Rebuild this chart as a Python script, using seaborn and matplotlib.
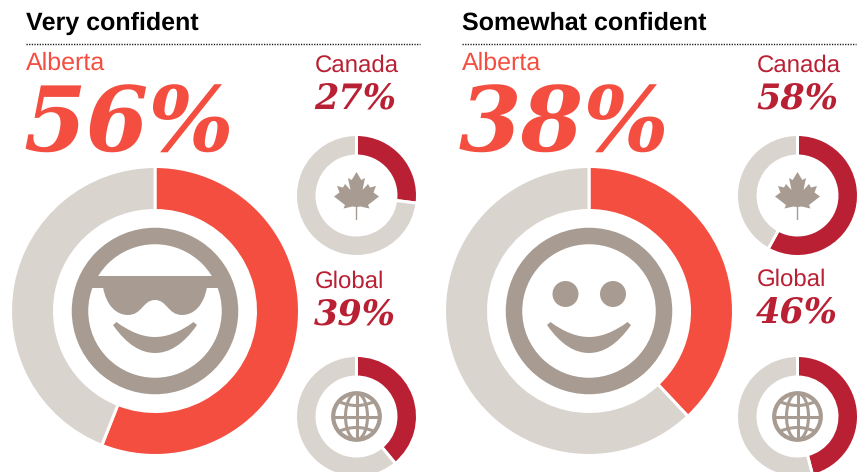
import matplotlib
matplotlib.use("Agg")
import matplotlib.pyplot as plt
import seaborn as sns
from matplotlib.patches import Circle, Ellipse, PathPatch, Polygon, Rectangle
from matplotlib.path import Path

# Survey shares (percent) shown on each panel
panel_titles = ["Very confident", "Somewhat confident"]
alberta_values = [56, 38]
canada_values = [27, 58]
global_values = [39, 46]
region_labels = ["Alberta", "Canada", "Global"]

sns.set_theme(style="white")
plt.rcParams["text.hinting"] = "no_hinting"
plt.rcParams["text.hinting_factor"] = 1
palette = sns.color_palette(["#F44E41", "#B92034", "#DAD4CF", "#A89C92"])
ALBERTA, DARK, TRACK, ICON = palette

W, H = 864, 472
SANS = "Liberation Sans"
SERIF = "DejaVu Serif"

fig = plt.figure(figsize=(W / 100, H / 100), dpi=100)
ax = fig.add_axes([0, 0, 1, 1])


def fy(y):
    """Convert a y measured from the top edge to the axes scale."""
    return H - y


def donut(value, cx, cy, outer, inner, color):
    gap = 1.5
    ax.pie([value, 100 - value], colors=[color, TRACK], startangle=90,
           counterclock=False, center=(cx, fy(cy)), radius=outer + gap,
           frame=True,
           wedgeprops=dict(width=outer - inner + 2 * gap, edgecolor="white",
                           linewidth=2.16))


def shape(points, codes=None):
    pts = [(x, fy(y)) for x, y in points]
    ax.add_patch(PathPatch(Path(pts, codes), fc=ICON, ec="none", zorder=5))


def face_ring(cx, cy):
    ax.add_patch(Circle((cx, fy(cy)), 75, fc="none", ec=ICON,
                        lw=16.5 * 0.72, zorder=5))


def smile(cx, half=42, top=322, bottom=325):
    C4 = Path.CURVE4
    shape([(cx - half, bottom),
           (cx - 28, 345), (cx - 14, 353), (cx, 353),
           (cx + 14, 353), (cx + 28, 345), (cx + half, bottom),
           (cx + half - 3.5, top),
           (cx + 25, 332), (cx + 12, 337), (cx, 337),
           (cx - 12, 337), (cx - 25, 332), (cx - half + 3.5, top),
           (cx - half, bottom)],
          [Path.MOVETO] + [C4] * 6 + [Path.LINETO] + [C4] * 6 + [Path.CLOSEPOLY])


def sunglasses(cx):
    ax.add_patch(Rectangle((cx - 66, fy(288)), 132, 12, fc=ICON, ec="none", zorder=4))
    C4 = Path.CURVE4
    pts = [(cx - 52, 287),
           (cx - 49, 305), (cx - 39, 315), (cx - 27, 315),
           (cx - 13, 315), (cx - 12, 300), (cx, 300),
           (cx + 12, 300), (cx + 13, 315), (cx + 27, 315),
           (cx + 39, 315), (cx + 49, 305), (cx + 52, 287),
           (cx - 52, 287)]
    shape(pts, [Path.MOVETO] + [C4] * 12 + [Path.CLOSEPOLY])


def eyes(cx):
    for dx in (-23.5, 24):
        ax.add_patch(Circle((cx + dx, fy(294)), 13, fc=ICON, ec="none", zorder=5))


def maple_leaf(cx, cy):
    half = [(0, -23.5), (4.8, -15.5), (8.5, -17.5), (6, -5.5), (11.5, -11.5),
            (13.5, -8), (19.5, -9.5), (17, -3), (22.5, 1), (11.5, 9.5),
            (13, 13), (4, 11), (0.7, 11.5), (0.7, 24.5)]
    outline = half + [(-x, y) for x, y in reversed(half)]
    ax.add_patch(Polygon([(cx + x, fy(cy + y)) for x, y in outline],
                         closed=True, fc=ICON, ec="none", zorder=5))


def globe(cx, cy):
    r = 23.3
    lw = 2.2
    y0 = fy(cy)
    clip = Circle((cx, y0), r, transform=ax.transData)
    ax.add_patch(Circle((cx, y0), r, fc="none", ec=ICON, lw=3.0, zorder=5))
    items = [
        Ellipse((cx, y0), 22, 2 * r, fc="none", ec=ICON, lw=lw, zorder=5),
        Ellipse((cx, y0 + 35), 64, 48, fc="none", ec=ICON, lw=lw, zorder=5),
        Ellipse((cx, y0 - 35), 64, 48, fc="none", ec=ICON, lw=lw, zorder=5),
    ]
    for item in items:
        ax.add_patch(item)
        item.set_clip_path(clip)
    ax.plot([cx, cx], [y0 - r, y0 + r], color=ICON, lw=lw, zorder=5, solid_capstyle="butt")
    ax.plot([cx - r, cx + r], [y0, y0], color=ICON, lw=lw, zorder=5, solid_capstyle="butt")


def label(x, y, text, color, size, family=SANS, **kw):
    ax.text(x, fy(y), text, color=color, fontsize=size, family=family,
            va="baseline", ha="left", zorder=6, **kw)


def percent(x, y, value, color, size):
    label(x, y, f"{value}%", color, size, family=SERIF, weight="bold", style="italic")


# Panel layout: left column x, big donut centre, small-donut centre, text x,
# and the baseline shift of the Global texts
panels = [
    dict(left=26, right=420, big=155, small=356.5, text=315, shift=0),
    dict(left=462, right=856, big=589, small=797.5, text=757, shift=-2),
]

for i, p in enumerate(panels):
    label(p["left"], 30, panel_titles[i], "black", 18.1, weight="bold")
    ax.plot([p["left"], p["right"]], [fy(44)] * 2, color="#111111", lw=1.0,
            linestyle=(0, (0.9, 1.0)))

    label(p["left"], 70, region_labels[0], ALBERTA, 18)
    percent(p["left"] - 3, 152, alberta_values[i], ALBERTA, 64.5)
    donut(alberta_values[i], p["big"], 311, 143, 102, ALBERTA)

    label(p["text"], 72, region_labels[1], DARK, 17.4)
    percent(p["text"] - 1, 109, canada_values[i], DARK, 25.5)
    donut(canada_values[i], p["small"], 195.5, 59.5, 41, DARK)
    maple_leaf(p["small"], 195.5)

    label(p["text"], 288 + p["shift"], region_labels[2], DARK, 17.4)
    percent(p["text"] - 1, 325 + p["shift"], global_values[i], DARK, 25.5)
    donut(global_values[i], p["small"], 416.5, 59.5, 41, DARK)
    globe(p["small"], 416.5)

    face_ring(p["big"], 311)
    smile(p["big"])

sunglasses(panels[0]["big"])
eyes(panels[1]["big"])

ax.set_xlim(0, W)
ax.set_ylim(0, H)
ax.set_aspect("equal")
ax.axis("off")

fig.savefig("out.png", dpi=100, facecolor="white")
